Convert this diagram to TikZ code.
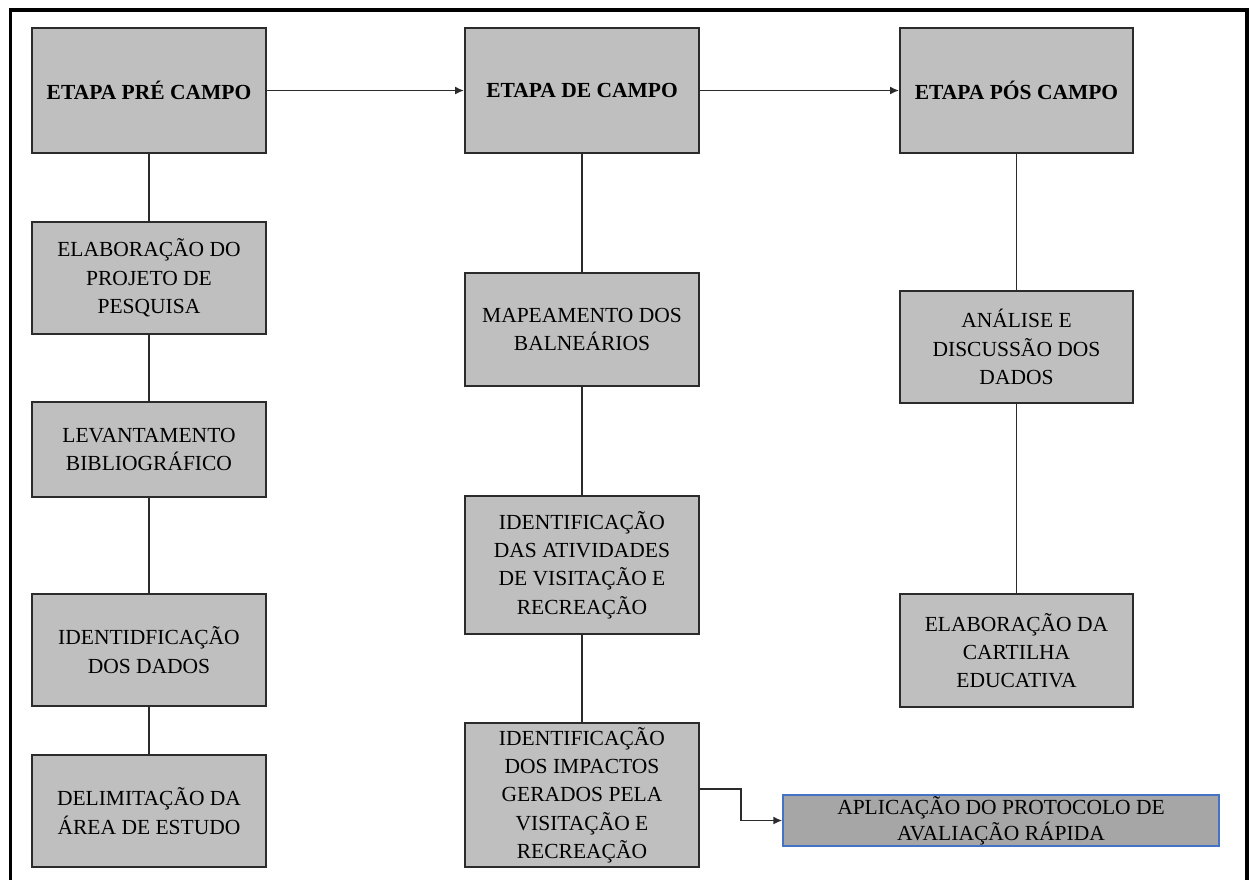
\documentclass[tikz,border=0pt]{standalone}
\usepackage{fontspec}
\setmainfont{Liberation Serif}
\usetikzlibrary{arrows.meta}
\definecolor{boxfill}{HTML}{BFBFBF}
\definecolor{boxline}{HTML}{2B2B2B}
\definecolor{aplfill}{HTML}{A6A6A6}
\definecolor{aplline}{HTML}{4472C4}
\tikzset{
  stagebox/.style={draw=boxline, line width=1.8pt, fill=boxfill, inner sep=0pt,
    align=center, font=\fontsize{21.5}{28.3}\selectfont, text=black,
    minimum width=234pt},
  headbox/.style={stagebox, font=\fontsize{21.5}{28.3}\selectfont\bfseries, minimum height=125pt},
  aplbox/.style={draw=aplline, line width=1.3pt, fill=aplfill, inner sep=0pt,
    align=center, font=\fontsize{21.5}{26}\selectfont, text=black,
    minimum width=436pt, minimum height=51pt},
  link/.style={draw=boxline, line width=1.9pt},
  arrowlink/.style={link, -{Latex[length=9pt,width=8pt]}},
  frameline/.style={draw=black, line width=3.5pt}
}
\begin{document}
\begin{tikzpicture}[x=1pt,y=-1pt]
\useasboundingbox (0,0) rectangle (1251,879);
\begin{scope}
\clip (0,0) rectangle (1251,879);
\draw[frameline] (10.5,10) rectangle (1247,900);
\end{scope}
% column 1
\node[headbox] (pre) at (149,90.5) {ETAPA PRÉ CAMPO};
\node[stagebox, minimum height=112pt] (elab) at (149,278) {ELABORAÇÃO DO\\PROJETO DE\\PESQUISA};
\node[stagebox, minimum height=95pt] (lev) at (149,449.5) {LEVANTAMENTO\\BIBLIOGRÁFICO};
\node[stagebox, minimum height=112pt] (idd) at (149,650) {IDENTIDFICAÇÃO\\DOS DADOS};
\node[stagebox, minimum height=112pt] (delim) at (149,811) {DELIMITAÇÃO DA\\ÁREA DE ESTUDO};
% column 2
\node[headbox] (campo) at (582,90.5) {ETAPA DE CAMPO};
\node[stagebox, minimum height=113pt] (map) at (582,329.5) {MAPEAMENTO DOS\\BALNEÁRIOS};
\node[stagebox, minimum height=138pt] (ativ) at (582,565) {IDENTIFICAÇÃO\\DAS ATIVIDADES\\DE VISITAÇÃO E\\RECREAÇÃO};
\node[stagebox, minimum height=144pt] (imp) at (582,795) {IDENTIFICAÇÃO\\DOS IMPACTOS\\GERADOS PELA\\VISITAÇÃO E\\RECREAÇÃO};
% column 3
\node[headbox, minimum width=233pt] (pos) at (1016.5,90.5) {ETAPA PÓS CAMPO};
\node[stagebox, minimum width=233pt, minimum height=112pt] (anal) at (1016.5,347) {ANÁLISE E\\DISCUSSÃO DOS\\DADOS};
\node[stagebox, minimum width=233pt, minimum height=113pt] (cart) at (1016.5,650.5) {ELABORAÇÃO DA\\CARTILHA\\EDUCATIVA};
% protocol box
\node[aplbox] (apl) at (1001,820.5) {APLICAÇÃO DO PROTOCOLO DE\\AVALIAÇÃO RÁPIDA};
% connectors
\draw[arrowlink] (pre) -- (campo);
\draw[arrowlink] (campo) -- (pos);
\draw[link] (pre) -- (elab);
\draw[link] (elab) -- (lev);
\draw[link] (lev) -- (idd);
\draw[link] (idd) -- (delim);
\draw[link] (campo) -- (map);
\draw[link] (map) -- (ativ);
\draw[link] (ativ) -- (imp);
\draw[link] (pos) -- (anal);
\draw[link] (anal) -- (cart);
\coordinate (bend) at (741,789);
\draw[arrowlink] (imp.east |- bend) -- (bend) |- (apl.west);
\end{tikzpicture}
\end{document}
